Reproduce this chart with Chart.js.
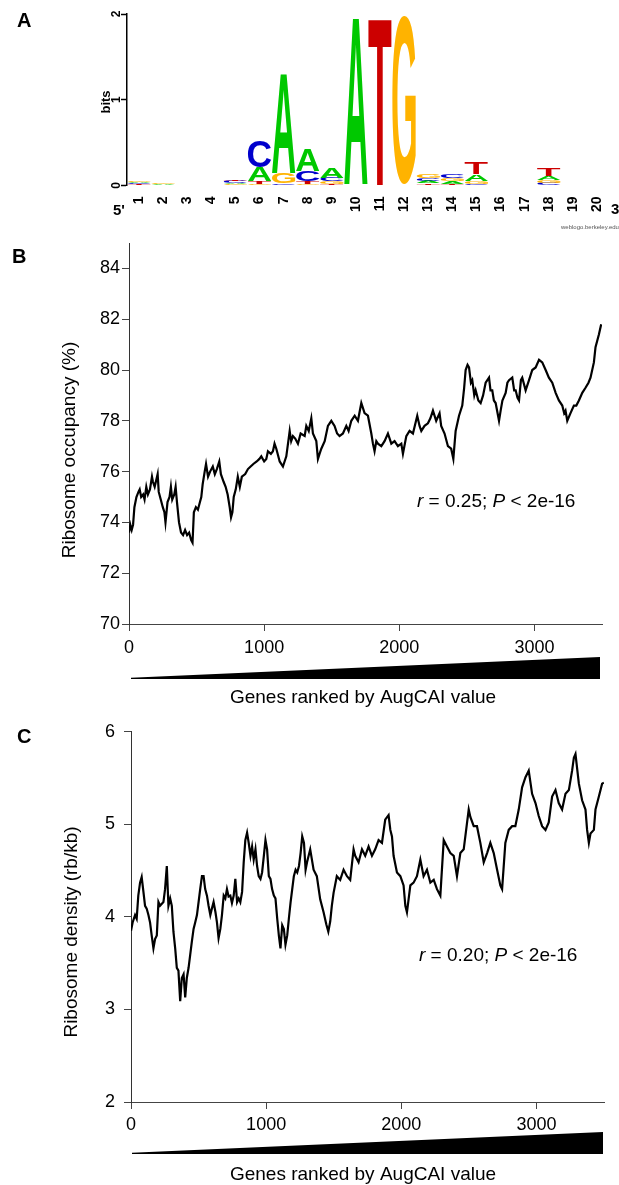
<!DOCTYPE html>
<html>
<head>
<meta charset="utf-8">
<script src="https://cdn.jsdelivr.net/npm/chart.js@4.4.1/dist/chart.umd.min.js"></script>
<style>
  html, body { margin: 0; padding: 0; background: #fff; }
  body { width: 619px; height: 1185px; position: relative; overflow: hidden; }
  canvas { position: absolute; left: 0; }
</style>
</head>
<body>
<canvas id="logo" width="619" height="230" style="top:0"></canvas>
<canvas id="occupancy" width="619" height="482" style="top:230px"></canvas>
<canvas id="density" width="619" height="473" style="top:712px"></canvas>
<script>
// ---- panel A: sequence logo, stacks listed bottom -> top ----
const positions = ['1','2','3','4','5','6','7','8','9','10','11','12','13','14','15','16','17','18','19','20'];
const layer1Letters = ['T','T','','','G','G','T','G','T','C','A','A','T','T','C','A','','C','','T'];
const layer1Bits    = [.015,.005,0,0,.015,.02,.01,.02,.02,.005,0,.003,.025,.02,.02,.005,0,.03,0,.005];
const layer2Letters = ['C','C','','','A','T','C','T','G','G','C','C','A','A','G','C','','G','','C'];
const layer2Bits    = [.01,.005,0,0,.015,.03,.02,.03,.03,.005,.005,.003,.03,.03,.03,.005,0,.035,0,.005];
const layer3Letters = ['A','A','','','C','A','G','C','C','T','G','T','C','G','A','G','','A','','A'];
const layer3Bits    = [.01,.01,0,0,.025,.16,.12,.12,.04,.005,.005,.003,.035,.035,.08,.005,0,.04,0,.005];
const layer4Letters = ['G','G','','','T','C','A','A','A','A','T','G','G','C','T','T','','T','','G'];
const layer4Bits    = [.015,.01,0,0,.02,.30,1.16,.26,.12,1.96,1.96,1.96,.045,.05,.14,.005,0,.09,0,.005];
const letterColors = { A: '#00c800', C: '#0000cc', G: '#ffb300', T: '#cc0000' };
const bitsTicks = [0, 1, 2];

// ---- shared x axis: genes ranked by AugCAI ----
const rankTicks = [0, 1000, 2000, 3000];

// ---- panel B: ribosome occupancy (%) along the gene ranking ----
const occupancyTicks = [70, 72, 74, 76, 78, 80, 82, 84];
const rankB = [0,10,20,30,40,55,70,79,90,105,115,128,140,155,170,177,190,212,220,235,250,262,270,285,300,310,320,335,345,355,370,385,400,415,430,445,460,470,480,495,510,525,535,545,560,570,585,600,620,635,650,668,680,700,715,730,745,755,765,775,790,805,820,835,860,880,900,920,945,965,979,1000,1016,1028,1050,1065,1077,1090,1115,1139,1164,1189,1200,1213,1230,1250,1270,1300,1312,1330,1349,1361,1386,1398,1410,1423,1448,1472,1497,1521,1540,1558,1583,1608,1625,1645,1670,1694,1719,1743,1768,1793,1805,1817,1830,1842,1867,1891,1916,1941,1965,1990,2015,2027,2052,2076,2101,2133,2150,2163,2187,2212,2230,2249,2273,2298,2310,2335,2360,2384,2400,2417,2442,2466,2480,2491,2505,2516,2530,2540,2555,2565,2585,2602,2620,2639,2664,2675,2688,2700,2713,2738,2750,2763,2787,2800,2812,2836,2850,2861,2875,2886,2900,2910,2935,2960,2984,3009,3034,3058,3083,3107,3132,3157,3181,3206,3220,3230,3243,3267,3292,3310,3329,3354,3378,3400,3415,3440,3452,3477,3494];
const occupancyPct = [73.6,73.9,73.7,73.9,74.6,75.0,75.2,75.3,75.0,75.1,74.9,75.4,75.1,75.3,75.8,75.6,75.4,75.9,75.2,74.9,74.6,74.4,74.0,74.8,75.0,75.4,74.9,75.1,75.4,74.8,74.0,73.6,73.5,73.7,73.5,73.6,73.3,73.2,74.4,74.6,74.5,74.8,75.0,75.5,76.0,76.3,75.8,76.0,76.2,75.9,76.1,76.4,75.9,75.6,75.4,75.1,74.6,74.2,74.4,75.0,75.3,75.8,75.4,75.8,75.9,76.1,76.2,76.3,76.4,76.5,76.6,76.4,76.5,76.8,76.7,76.8,77.1,76.9,76.4,76.2,76.6,77.6,77.2,77.4,77.3,77.1,77.5,77.4,77.8,77.6,78.1,77.5,77.2,76.5,76.7,76.9,77.2,77.8,78.0,77.8,77.5,77.4,77.5,77.8,77.6,78.0,78.2,78.0,78.7,78.3,78.2,77.5,77.1,76.8,77.2,77.1,77.0,77.2,77.5,77.1,77.2,77.0,77.1,76.7,77.4,77.6,77.5,78.2,77.8,77.6,77.8,77.9,78.1,78.4,78.0,78.3,77.8,77.5,77.0,76.9,76.5,77.6,78.2,78.6,79.3,80.0,80.2,80.1,79.5,79.6,79.0,79.2,78.8,78.7,79.0,79.5,79.7,79.2,79.2,78.8,78.7,78.0,78.4,78.8,79.1,79.5,79.6,79.7,79.2,79.2,78.9,78.8,79.6,79.7,79.2,79.6,80.0,80.1,80.4,80.3,80.0,79.7,79.5,79.1,78.8,78.6,78.3,78.4,78.0,78.3,78.6,78.6,78.8,79.1,79.3,79.5,79.7,80.3,80.9,81.4,81.8];

// ---- panel C: ribosome density (rb/kb) along the gene ranking ----
const densityTicks = [2, 3, 4, 5, 6];
const rankC = [0,12,30,42,54,67,79,92,104,116,129,141,153,166,178,191,203,215,240,252,265,277,290,302,314,327,339,351,364,376,389,401,413,426,438,450,463,475,488,500,512,525,537,549,562,574,587,600,611,625,636,648,661,673,686,698,710,722,735,747,760,772,785,797,809,822,834,846,859,871,884,896,908,921,933,945,958,970,983,995,1007,1020,1032,1044,1057,1069,1082,1094,1106,1119,1131,1143,1156,1168,1181,1193,1205,1218,1230,1243,1255,1267,1280,1292,1304,1326,1351,1375,1400,1425,1445,1460,1474,1486,1499,1523,1548,1573,1598,1622,1647,1659,1684,1709,1733,1758,1783,1807,1832,1857,1881,1906,1919,1931,1943,1968,1993,2017,2030,2042,2067,2091,2116,2141,2165,2190,2215,2240,2264,2289,2314,2338,2363,2388,2412,2437,2462,2486,2499,2511,2536,2560,2585,2610,2635,2659,2684,2709,2733,2746,2770,2795,2820,2844,2869,2894,2919,2943,2968,2993,3017,3042,3067,3091,3116,3141,3165,3190,3215,3240,3264,3277,3289,3314,3338,3363,3375,3388,3400,3425,3437,3462,3486,3499];
const densityRbKb = [3.85,3.94,4.02,3.98,4.23,4.37,4.43,4.27,4.12,4.09,4.02,3.94,3.80,3.66,3.76,3.80,4.16,4.12,4.16,4.30,4.55,4.12,4.20,4.12,3.84,3.66,3.45,3.42,3.09,3.34,3.38,3.13,3.34,3.45,3.59,3.73,3.87,3.94,4.02,4.16,4.30,4.44,4.44,4.30,4.23,4.12,4.02,4.10,4.16,4.05,3.94,3.77,3.87,4.02,4.23,4.20,4.30,4.22,4.23,4.15,4.23,4.41,4.16,4.20,4.16,4.27,4.59,4.83,4.91,4.80,4.66,4.76,4.62,4.73,4.55,4.44,4.41,4.48,4.66,4.83,4.73,4.44,4.41,4.30,4.23,4.20,3.98,3.80,3.66,3.91,3.87,3.70,3.80,3.98,4.16,4.30,4.44,4.51,4.48,4.55,4.69,4.87,4.80,4.51,4.60,4.73,4.51,4.44,4.19,4.05,3.92,3.84,3.95,4.12,4.26,4.44,4.40,4.51,4.44,4.40,4.73,4.66,4.59,4.73,4.66,4.76,4.66,4.73,4.83,4.80,5.05,5.10,4.94,4.87,4.66,4.48,4.44,4.34,4.12,4.05,4.34,4.37,4.44,4.62,4.44,4.51,4.37,4.40,4.30,4.23,4.83,4.76,4.69,4.66,4.44,4.69,4.73,5.01,5.16,5.08,4.98,4.98,4.80,4.59,4.69,4.80,4.69,4.51,4.34,4.30,4.80,4.94,4.98,4.98,5.16,5.40,5.51,5.58,5.33,5.23,5.09,4.98,4.94,5.02,5.30,5.37,5.23,5.16,5.33,5.37,5.58,5.72,5.76,5.44,5.26,5.16,4.94,4.80,4.90,4.94,5.16,5.30,5.44,5.45];

const FAMILY = '"Liberation Sans", Arial, Helvetica, sans-serif';
Chart.defaults.font.family = FAMILY;

// stretch one letter so it fills the bar rectangle
function drawGlyph(ctx, ch, x, y, w, h, color) {
    ctx.save();
    ctx.font = 'bold 100px ' + FAMILY;
    const m = ctx.measureText(ch);
    const gw = m.actualBoundingBoxLeft + m.actualBoundingBoxRight;
    const gh = m.actualBoundingBoxAscent + m.actualBoundingBoxDescent;
    ctx.translate(x, y);
    ctx.scale(w / gw, h / gh);
    ctx.fillStyle = color;
    ctx.textAlign = 'left';
    ctx.textBaseline = 'alphabetic';
    ctx.fillText(ch, m.actualBoundingBoxLeft, m.actualBoundingBoxAscent);
    ctx.restore();
}

const logoGlyphs = {
    id: 'logoGlyphs',
    afterDatasetsDraw(chart) {
        const ctx = chart.ctx;
        chart.data.datasets.forEach((ds, di) => {
            chart.getDatasetMeta(di).data.forEach((bar, i) => {
                const letter = ds.letters[i];
                if (!letter) return;
                const p = bar.getProps(['x', 'y', 'base', 'width'], true);
                const h = Math.abs(p.base - p.y);
                if (h < 0.3) return;
                drawGlyph(ctx, letter, p.x - p.width / 2, Math.min(p.y, p.base), p.width, h, letterColors[letter]);
            });
        });
    }
};

// rotated text, baseline at screen x = bx, centred on y
function rotatedText(ctx, text, bx, cy) {
    ctx.save();
    ctx.translate(bx, cy);
    ctx.rotate(-Math.PI / 2);
    ctx.textAlign = 'center';
    ctx.textBaseline = 'alphabetic';
    ctx.fillText(text, 0, 0);
    ctx.restore();
}

const logoDecor = {
    id: 'logoDecor',
    afterDraw(chart) {
        const ctx = chart.ctx;
        const ys = chart.scales.y;
        ctx.save();
        ctx.fillStyle = '#000';
        ctx.font = 'bold 12px ' + FAMILY;
        bitsTicks.forEach(v => rotatedText(ctx, String(v), 119.5, ys.getPixelForValue(v)));
        ctx.font = 'bold 13px ' + FAMILY;
        rotatedText(ctx, 'bits', 110, 102);
        ctx.textAlign = 'left';
        ctx.textBaseline = 'alphabetic';
        ctx.font = 'bold 15px ' + FAMILY;
        ctx.fillText("5'", 113, 215);
        ctx.fillText("3'", 611, 214);
        ctx.font = 'bold 20px ' + FAMILY;
        ctx.fillText('A', 17, 27);
        ctx.font = '6px ' + FAMILY;
        ctx.fillStyle = '#555';
        ctx.fillText('weblogo.berkeley.edu', 561, 229);
        ctx.restore();
    }
};

const layers = [
    [layer1Letters, layer1Bits],
    [layer2Letters, layer2Bits],
    [layer3Letters, layer3Bits],
    [layer4Letters, layer4Bits]
];

const fixedTicks = values => s => { s.ticks = values.map(v => ({ value: v })); };

new Chart(document.getElementById('logo'), {
    type: 'bar',
    data: {
        labels: positions,
        datasets: layers.map(([letters, bits]) => ({
            data: bits,
            letters: letters,
            backgroundColor: 'rgba(0,0,0,0)',
            borderWidth: 0,
            barPercentage: 0.97,
            categoryPercentage: 1.0
        }))
    },
    options: {
        responsive: false,
        animation: false,
        events: [],
        layout: { padding: { top: 14, right: 10, left: 0, bottom: 0 } },
        plugins: { legend: { display: false }, tooltip: { enabled: false } },
        scales: {
            x: {
                stacked: true,
                grid: { display: false },
                border: { display: false },
                ticks: { autoSkip: false, minRotation: 90, maxRotation: 90, padding: 3, color: '#000', font: { size: 14, weight: 'bold' } },
                afterFit: s => { s.height = 44.5; }
            },
            y: {
                stacked: true,
                min: 0,
                max: 2,
                ticks: { display: false },
                grid: { drawOnChartArea: false, tickLength: 6, tickColor: '#000', tickWidth: 1.5 },
                border: { color: '#000', width: 1.5 },
                afterBuildTicks: fixedTicks(bitsTicks),
                afterFit: s => { s.width = 127; }
            }
        }
    },
    plugins: [logoGlyphs, logoDecor]
});

// ---- panels B and C ----
const panelDecor = {
    id: 'panelDecor',
    afterDraw(chart, args, o) {
        const ctx = chart.ctx;
        const xs = chart.scales.x;
        ctx.save();
        ctx.fillStyle = '#000';
        // ranking wedge under the axis
        const x0 = xs.getPixelForValue(0) + o.wedgeInset;
        const x1 = xs.getPixelForValue(3500) - o.wedgeInset;
        ctx.beginPath();
        ctx.moveTo(x0, o.wedgeBottom - 1.2);
        ctx.lineTo(x1, o.wedgeTop);
        ctx.lineTo(x1, o.wedgeBottom);
        ctx.lineTo(x0, o.wedgeBottom);
        ctx.closePath();
        ctx.fill();
        // axis titles
        ctx.font = '19px ' + FAMILY;
        ctx.textAlign = 'center';
        ctx.textBaseline = 'alphabetic';
        ctx.fillText('Genes ranked by AugCAI value', o.xTitleX, o.xTitleY);
        ctx.save();
        ctx.translate(o.yTitleX, o.yTitleY);
        ctx.rotate(-Math.PI / 2);
        ctx.textBaseline = 'middle';
        ctx.fillText(o.yTitle, 0, 0);
        ctx.restore();
        // correlation note
        ctx.textAlign = 'left';
        let x = o.statX;
        [['r', true], [' = ' + o.r + '; ', false], ['P', true], [' < 2e-16', false]].forEach(([t, it]) => {
            ctx.font = (it ? 'italic ' : '') + '19px ' + FAMILY;
            ctx.fillText(t, x, o.statY);
            x += ctx.measureText(t).width;
        });
        // panel letter
        ctx.font = 'bold 20px ' + FAMILY;
        ctx.fillText(o.letter, o.letterX, o.letterY);
        ctx.restore();
    }
};

function rankChart(id, genes, values, cfg) {
    return new Chart(document.getElementById(id), {
        type: 'line',
        data: {
            datasets: [{
                data: genes.map((g, i) => ({ x: g, y: values[i] })),
                borderColor: '#000',
                borderWidth: 2.2,
                pointRadius: 0,
                tension: 0
            }]
        },
        options: {
            responsive: false,
            animation: false,
            events: [],
            layout: { padding: cfg.padding },
            plugins: { legend: { display: false }, tooltip: { enabled: false }, panelDecor: cfg.decor },
            scales: {
                x: {
                    type: 'linear',
                    min: 0,
                    max: 3500,
                    ticks: { autoSkip: false, maxRotation: 0, padding: cfg.xTickPad, color: '#000', font: { size: 18 }, callback: v => String(v) },
                    grid: { drawOnChartArea: false, tickLength: 7, tickColor: '#444' },
                    border: { color: '#444' },
                    afterBuildTicks: fixedTicks(rankTicks),
                    afterFit: s => { s.height = cfg.xHeight; }
                },
                y: {
                    type: 'linear',
                    min: cfg.yMin,
                    max: cfg.yMax,
                    ticks: { autoSkip: false, padding: cfg.yTickPad, color: '#000', font: { size: 18 }, callback: v => String(v) },
                    grid: { drawOnChartArea: false, tickLength: 7, tickColor: '#444' },
                    border: { color: '#333' },
                    afterBuildTicks: fixedTicks(cfg.yTicks),
                    afterFit: s => { s.width = cfg.yWidth; }
                }
            }
        },
        plugins: [panelDecor]
    });
}

rankChart('occupancy', rankB, occupancyPct, {
    padding: { top: 13, right: 17, left: 0, bottom: 0 },
    xHeight: 88, yWidth: 129, xTickPad: 6, yTickPad: 2,
    yMin: 70, yMax: 85, yTicks: occupancyTicks,
    decor: {
        letter: 'B', letterX: 12, letterY: 33,
        yTitle: 'Ribosome occupancy (%)', yTitleX: 70, yTitleY: 220,
        xTitleX: 363, xTitleY: 473,
        wedgeBottom: 449, wedgeTop: 427, wedgeInset: 2,
        r: '0.25', statX: 417, statY: 277
    }
});

rankChart('density', rankC, densityRbKb, {
    padding: { top: 16, right: 15, left: 0, bottom: 0 },
    xHeight: 83, yWidth: 131, xTickPad: 5, yTickPad: 9,
    yMin: 2, yMax: 6, yTicks: densityTicks,
    decor: {
        letter: 'C', letterX: 17, letterY: 31,
        yTitle: 'Ribosome density (rb/kb)', yTitleX: 72, yTitleY: 220,
        xTitleX: 363, xTitleY: 468,
        wedgeBottom: 442, wedgeTop: 420, wedgeInset: 1,
        r: '0.20', statX: 419, statY: 249
    }
});
</script>
</body>
</html>
